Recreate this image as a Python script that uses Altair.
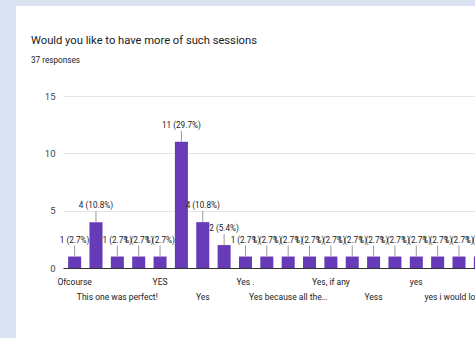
import json
import altair as alt
import pandas as pd

# ---- data ----
categories = [
    "Ofcourse", "Of course", "This one was perfect!", "Sure", "YES",
    "Yes!", "Yes", "Yes please", "Yes .", "Yes, definitely",
    "Yes because all the\u2026", "Yes, for sure", "Yes, if any", "Yes, surely",
    "Yess", "yeah", "yes", "yes definitely", "yes i would love to", "yes please",
]
counts = [1, 4, 1, 1, 1, 11, 4, 2, 1, 1, 1, 1, 1, 1, 1, 1, 1, 1, 1, 1]
total_responses = 37
y_ticks = [0, 2.5, 5, 7.5, 10, 12.5, 15]

title_text = "Would you like to have more of such sessions"
subtitle_text = f"{total_responses} responses"

df = pd.DataFrame({"answer": categories, "count": counts})
df["label"] = [f"{c} ({c / total_responses * 100:.1f}%)" for c in counts]

FONT = "Roboto, Liberation Sans, sans-serif"
PURPLE = "#673ab7"
BG = "#dbe3f2"

cats_js = json.dumps(categories)
label_expr = (
    f"(indexof({cats_js}, datum.value) % 2 == 1) ? '' : "
    f"((indexof({cats_js}, datum.value) % 4 == 0) ? datum.label : [' ', datum.label])"
)

x_enc = alt.X(
    "answer:N",
    sort=categories,
    scale=alt.Scale(range=[0, 429], paddingInner=0.39, paddingOuter=0.24),
    axis=alt.Axis(
        title=None, labelAngle=0, ticks=False, labelOverlap=False,
        labelExpr=label_expr, labelBaseline="top", labelPadding=9,
        labelLineHeight=15, labelFont=FONT, labelFontSize=8.5,
        labelColor="#222222", domainColor="#333333", labelLimit=300,
        grid=False,
    ),
)
y_enc = alt.Y(
    "count:Q",
    scale=alt.Scale(domain=[0, 15], nice=False),
    axis=alt.Axis(
        title=None, values=y_ticks, ticks=False, domain=False,
        labelExpr="datum.value % 5 == 0 ? datum.label : ''",
        labelPadding=8, labelFont=FONT, labelFontSize=9.5, labelColor="#444444",
        gridColor={"condition": {"test": "datum.value % 5 == 0", "value": "#e4e4e4"},
                   "value": "#f1f1f1"},
    ),
)

bars = alt.Chart(df).mark_bar(color=PURPLE).encode(x=x_enc, y=y_enc)

leaders = alt.Chart(df).mark_rule(color="#999999", y2Offset=-11).encode(
    x=alt.X("answer:N", sort=categories), y="count:Q", y2="count:Q"
)

value_labels = alt.Chart(df).mark_text(
    dy=-14, baseline="alphabetic", font=FONT, fontSize=8.2, color="#222222"
).encode(x=alt.X("answer:N", sort=categories), y="count:Q", text="label:N")

deco = pd.DataFrame({"k": [0]})
left_strip = alt.Chart(deco).mark_rect(color=BG).encode(
    x=alt.value(-63), x2=alt.value(-47), y=alt.value(-96), y2=alt.value(242)
)
top_strip = alt.Chart(deco).mark_rect(color=BG).encode(
    x=alt.value(-63), x2=alt.value(412), y=alt.value(-96), y2=alt.value(-90)
)

chart = alt.layer(bars, leaders, value_labels, left_strip, top_strip).properties(
    width=412,
    height=172,
    background="white",
    padding={"left": 63, "top": 96, "right": 0, "bottom": 70},
    autosize=alt.AutoSizeParams(type="none"),
    title=alt.TitleParams(
        text=title_text, subtitle=subtitle_text, anchor="start", frame="group",
        dx=-32, dy=64, font=FONT, fontSize=11.2, fontWeight="normal", color="#202124",
        subtitleFont=FONT, subtitleFontSize=8.2, subtitleColor="#202124",
        subtitlePadding=11, offset=0,
    ),
).configure_view(stroke=None)

chart.save("out.html", embed_options={"renderer": "svg", "actions": False})
